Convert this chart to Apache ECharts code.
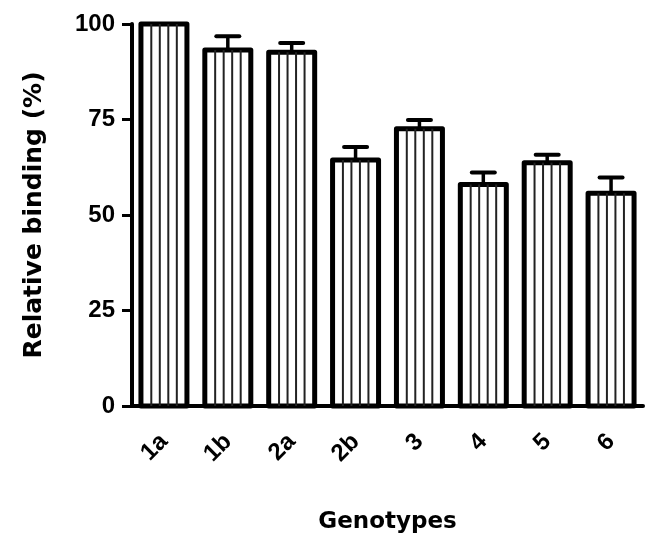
<!DOCTYPE html>
<html>
<head>
<meta charset="utf-8">
<script src="https://cdn.jsdelivr.net/npm/echarts@6/dist/echarts.min.js"></script>
<style>
html,body{margin:0;padding:0;background:#fff;}
#chart{width:646px;height:539px;}
</style>
</head>
<body>
<div id="chart"></div>
<script>
var categories = ['1a', '1b', '2a', '2b', '3', '4', '5', '6'];
var values = [100, 93.2, 92.6, 64.4, 72.6, 58.0, 63.7, 55.7];
var errors = [0, 3.6, 2.4, 3.4, 2.3, 3.1, 2.1, 4.1];
var yTicks = [0, 25, 50, 75, 100];

var tickFont = "'Liberation Sans', Arial, sans-serif";
var titleFont = "'DejaVu Sans', 'Liberation Sans', Arial, sans-serif";

var data = categories.map(function (c, i) { return [i, values[i], errors[i]]; });

function renderBar(params, api) {
  var idx = api.value(0);
  var val = api.value(1);
  var err = api.value(2);
  var top = api.coord([idx, val]);
  var base = api.coord([idx, 0]);
  var band = api.size([1, 0])[0];
  var w = band * 0.72;
  var x0 = top[0] - w / 2;
  var children = [];
  children.push({
    type: 'rect',
    shape: { x: x0, y: top[1], width: w, height: base[1] - top[1] },
    style: { fill: '#fff', stroke: '#000', lineWidth: 5, lineJoin: 'round' },
    z2: 1
  });
  var fr = [0.225, 0.41, 0.595, 0.78];
  fr.forEach(function (f) {
    var lx = x0 + w * f;
    children.push({
      type: 'line',
      shape: { x1: lx, y1: top[1], x2: lx, y2: base[1] },
      style: { stroke: '#222', lineWidth: 2 },
      z2: 2
    });
  });
  if (err > 0) {
    var et = api.coord([idx, val + err]);
    children.push({
      type: 'line',
      shape: { x1: top[0], y1: top[1], x2: top[0], y2: et[1] },
      style: { stroke: '#000', lineWidth: 3.5 },
      z2: 3
    });
    children.push({
      type: 'line',
      shape: { x1: top[0] - 11.5, y1: et[1], x2: top[0] + 11.5, y2: et[1] },
      style: { stroke: '#000', lineWidth: 4, lineCap: 'round' },
      z2: 3
    });
  }
  return { type: 'group', children: children };
}

var chart = echarts.init(document.getElementById('chart'), null, { renderer: 'canvas' });
chart.setOption({
  backgroundColor: '#fff',
  animation: false,
  grid: { left: 132, top: 24, right: 3, bottom: 132, containLabel: false },
  xAxis: {
    type: 'category',
    data: categories,
    name: 'Genotypes',
    nameLocation: 'middle',
    nameGap: 105,
    nameTextStyle: { fontFamily: titleFont, fontWeight: 'bold', fontSize: 23, color: '#000' },
    axisLine: { lineStyle: { color: '#000', width: 4 } },
    axisTick: { alignWithLabel: true, length: 12, lineStyle: { color: '#000', width: 3 } },
    axisLabel: { rotate: 45, margin: 32, color: '#000', fontFamily: tickFont, fontWeight: 'bold', fontSize: 24 },
    splitLine: { show: false }
  },
  yAxis: {
    type: 'value',
    min: 0,
    max: 100,
    interval: 25,
    name: 'Relative binding (%)',
    nameLocation: 'middle',
    nameRotate: 90,
    nameGap: 85,
    nameTextStyle: { fontFamily: titleFont, fontWeight: 'bold', fontSize: 25, color: '#000' },
    axisLine: { show: true, lineStyle: { color: '#000', width: 4 } },
    axisTick: { show: true, length: 10, lineStyle: { color: '#000', width: 3 } },
    axisLabel: {
      margin: 17, color: '#000', fontFamily: tickFont, fontWeight: 'bold', fontSize: 24,
      formatter: function (v) { return yTicks.indexOf(v) >= 0 ? String(v) : ''; }
    },
    splitLine: { show: false }
  },
  series: [{
    type: 'custom',
    renderItem: renderBar,
    encode: { x: 0, y: 1 },
    data: data,
    clip: false
  }]
});
</script>
</body>
</html>
